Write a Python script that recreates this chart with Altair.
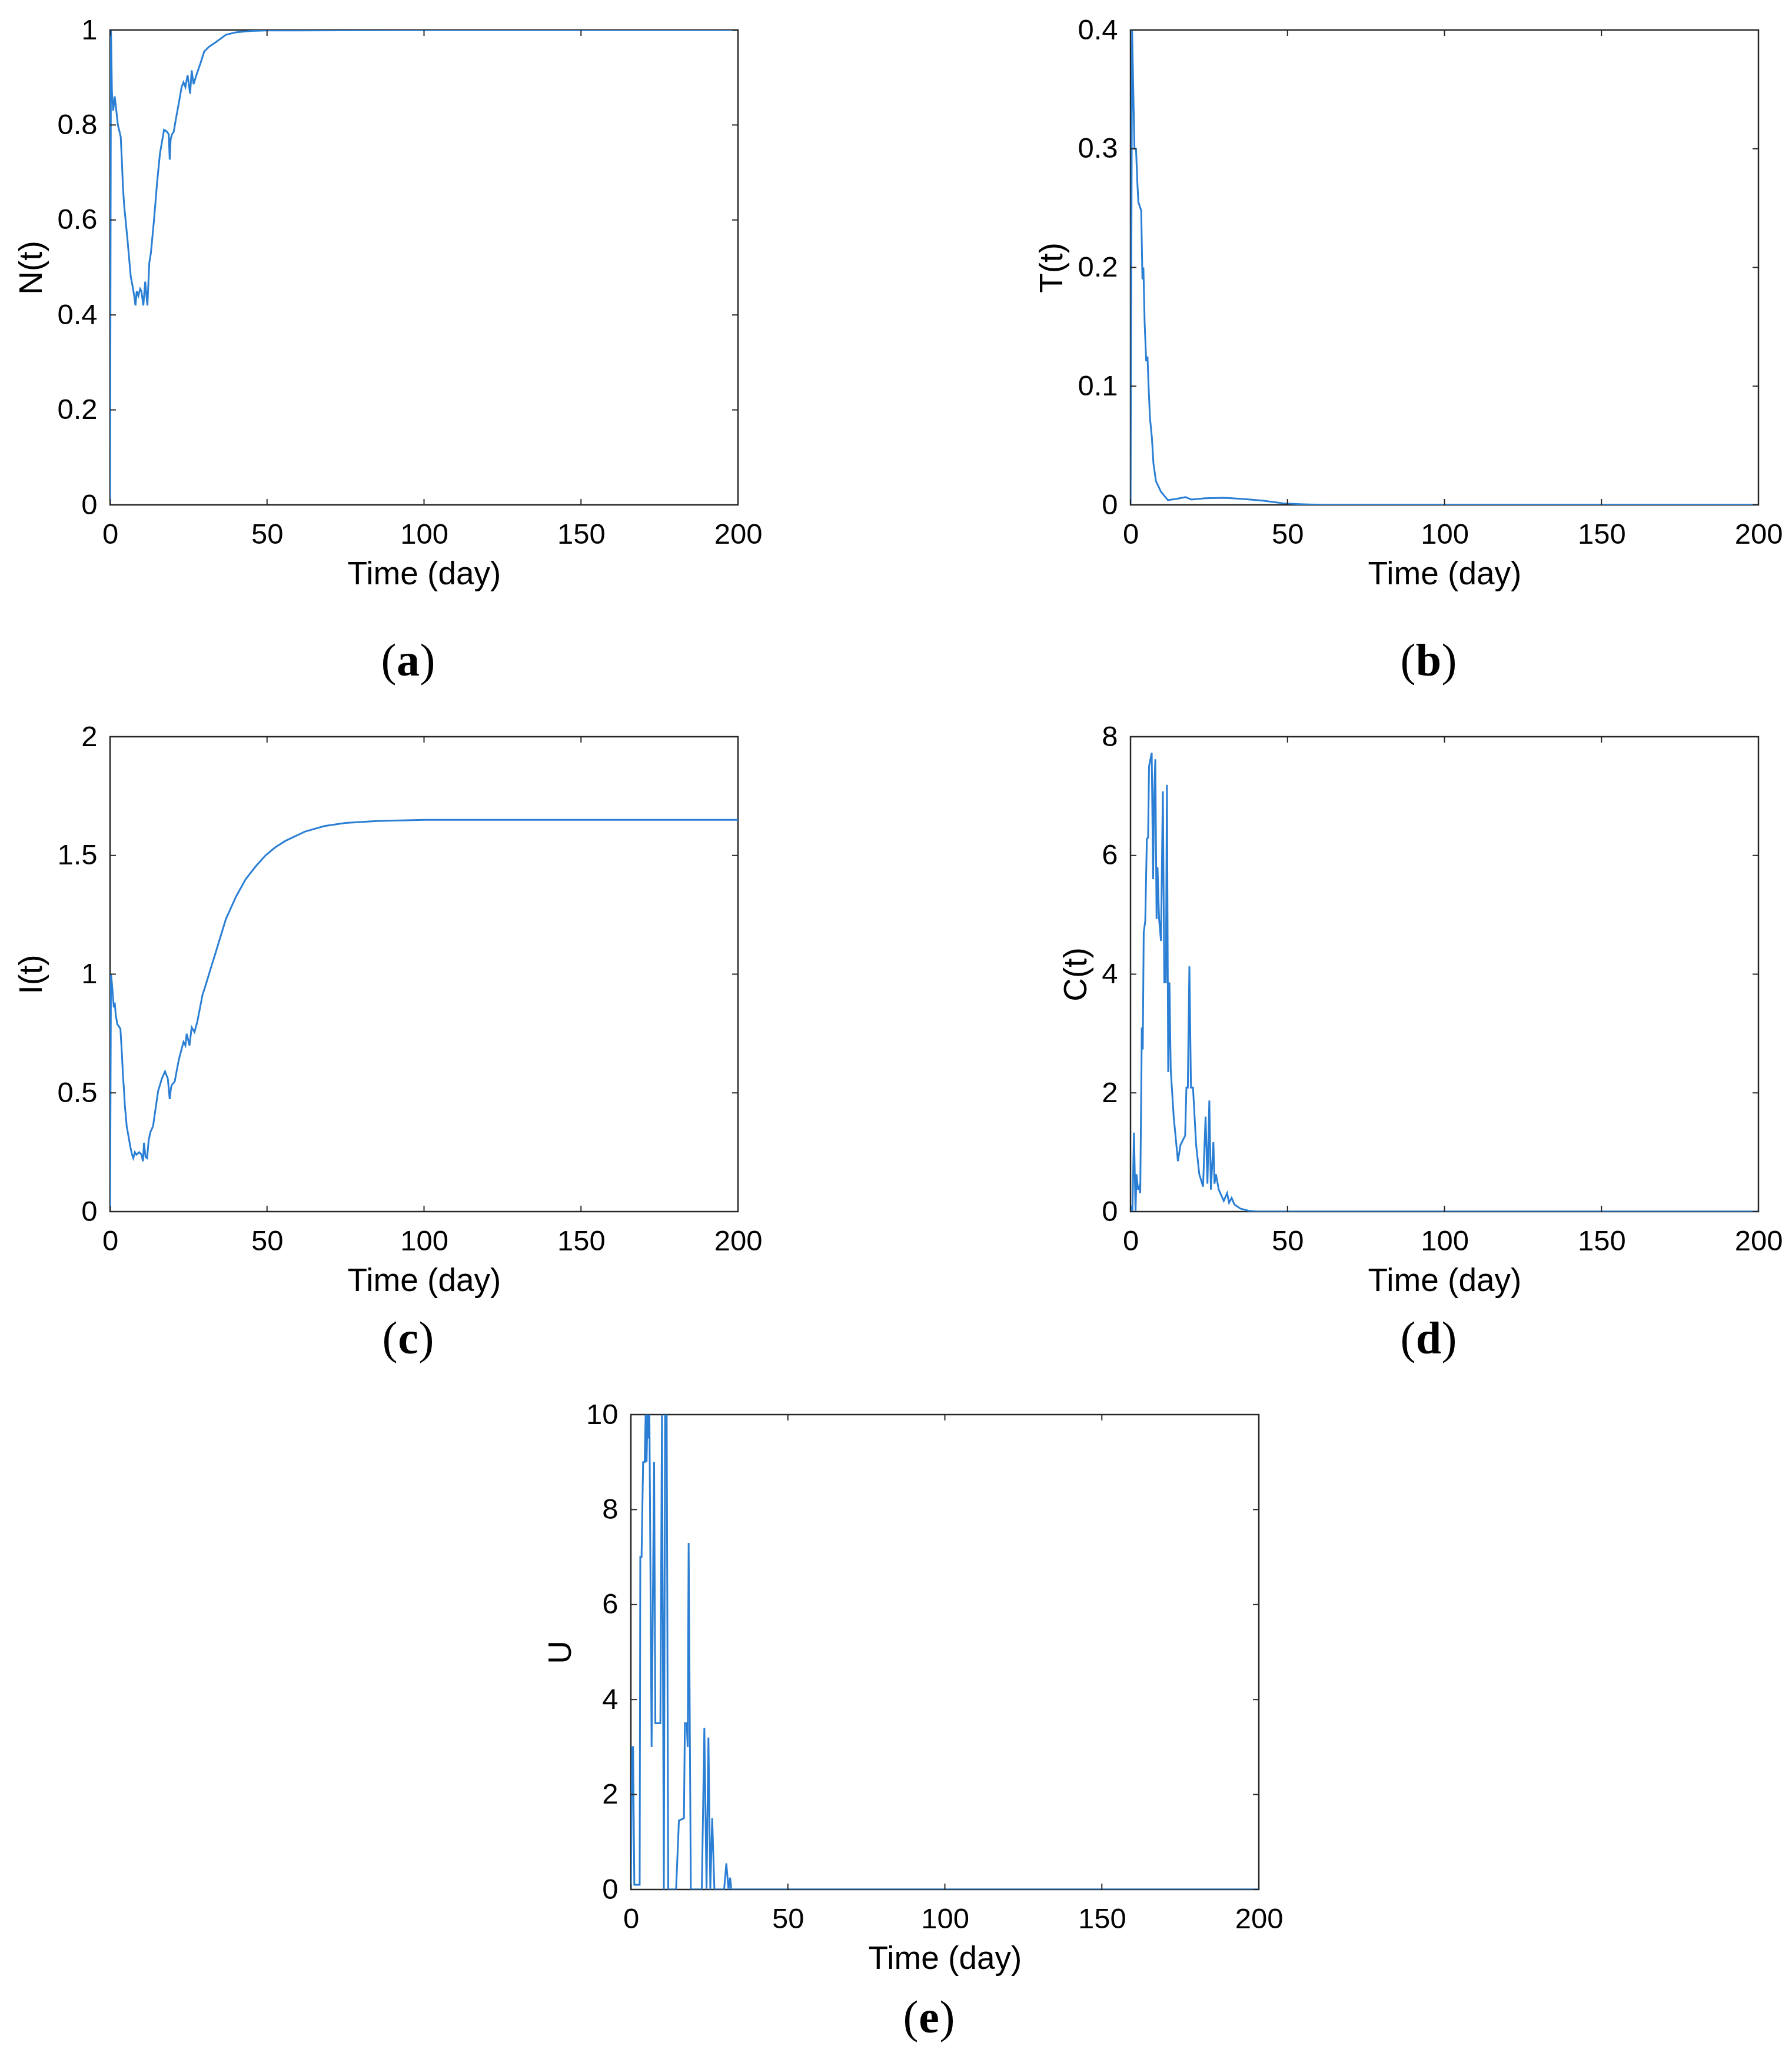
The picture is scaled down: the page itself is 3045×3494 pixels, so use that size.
import altair as alt
import pandas as pd

# ---- data ----
time_ticks = [0, 50, 100, 150, 200]

n_ticks = [0, 0.2, 0.4, 0.6, 0.8, 1]
n_t = [0, 0.3, 0.6, 1.0, 1.5, 2.5, 3.4, 3.8, 4.1, 4.5,
       4.8, 5.6, 6.6, 7.2, 7.7, 8.1, 8.5, 9.0, 9.6, 10.0,
       10.6, 11.2, 11.6, 11.9, 12.5, 13.0, 14.0, 15.0, 15.9, 17.2,
       18.1, 18.7, 19.0, 19.3, 19.7, 20.3, 20.9, 21.9, 22.8, 23.4,
       24.0, 24.7, 25.5, 26.0, 26.6, 27.5, 28.8, 30.0, 31.6, 33.8,
       36.9, 40.0, 45.0, 50.0, 100.0, 150.0, 200.0]
n_v = [0, 1.0, 0.87, 0.83, 0.86, 0.80, 0.775, 0.72, 0.67, 0.63,
       0.61, 0.555, 0.48, 0.46, 0.44, 0.42, 0.45, 0.44, 0.455, 0.45,
       0.42, 0.47, 0.44, 0.42, 0.51, 0.53, 0.60, 0.68, 0.74, 0.79,
       0.786, 0.78, 0.727, 0.77, 0.78, 0.786, 0.81, 0.846, 0.88, 0.89,
       0.88, 0.905, 0.866, 0.915, 0.886, 0.905, 0.93, 0.955, 0.965, 0.975,
       0.99, 0.995, 0.998, 0.999, 1.0, 1.0, 1.0]

t_ticks = [0, 0.1, 0.2, 0.3, 0.4]
t_t = [0, 0.5, 1.25, 1.75, 2.2, 2.5, 3.4, 3.8, 4.1, 4.5,
       5.0, 5.4, 5.8, 6.2, 6.8, 7.3, 8.1, 9.7, 11.9, 14.4,
       17.5, 19.4, 23.7, 30.0, 36.0, 42.5, 48.7, 55.0, 62.0, 100.0,
       150.0, 200.0]
t_v = [0, 0.4, 0.30, 0.30, 0.27, 0.255, 0.248, 0.19, 0.2, 0.153,
       0.121, 0.125, 0.097, 0.073, 0.057, 0.035, 0.02, 0.011, 0.004, 0.005,
       0.0066, 0.0045, 0.0056, 0.006, 0.005, 0.0035, 0.0013, 0.0005, 0.0, 0.0,
       0.0, 0.0]

i_ticks = [0, 0.5, 1, 1.5, 2]
i_t = [0, 0.3, 0.6, 1.2, 1.5, 1.8, 2.3, 3.3, 3.8, 4.1,
       4.4, 4.7, 5.3, 5.7, 6.5, 7.0, 7.4, 7.9, 8.4, 9.3,
       10.0, 10.5, 10.8, 11.3, 11.8, 12.3, 12.8, 13.7, 15.3, 16.5,
       17.5, 18.4, 19.0, 19.4, 19.7, 20.6, 21.9, 23.4, 24.0, 24.4,
       25.3, 26.0, 26.9, 27.8, 29.4, 30.7, 31.9, 33.8, 36.9, 40.1,
       43.2, 46.4, 49.5, 52.6, 55.8, 62.0, 68.3, 75.0, 85.0, 100.0,
       150.0, 200.0]
i_v = [0, 1.0, 0.96, 0.86, 0.88, 0.83, 0.79, 0.77, 0.66, 0.575,
       0.52, 0.45, 0.36, 0.33, 0.27, 0.24, 0.225, 0.25, 0.24, 0.25,
       0.24, 0.212, 0.29, 0.23, 0.225, 0.30, 0.333, 0.36, 0.507, 0.56,
       0.59, 0.56, 0.474, 0.52, 0.534, 0.548, 0.64, 0.715, 0.70, 0.749,
       0.70, 0.776, 0.756, 0.80, 0.91, 0.964, 1.017, 1.098, 1.232, 1.326,
       1.40, 1.454, 1.50, 1.534, 1.561, 1.60, 1.624, 1.637, 1.645, 1.65,
       1.65, 1.65]

c_ticks = [0, 2, 4, 6, 8]
c_t = [0, 0.6, 1.1, 1.6, 1.9, 2.4, 2.8, 3.1, 3.6, 3.9,
       4.2, 4.7, 5.2, 5.6, 5.9, 6.75, 7.2, 7.5, 7.9, 8.3,
       8.6, 9.1, 9.7, 10.3, 10.75, 11.25, 11.6, 12.0, 12.4, 12.8,
       13.75, 15.1, 15.9, 17.4, 17.8, 18.25, 18.75, 19.25, 19.9, 20.9,
       21.9, 23.1, 23.9, 24.5, 25.1, 25.6, 26.4, 26.75, 27.2, 28.1,
       29.7, 30.75, 31.4, 32.2, 33.1, 35.0, 37.5, 40.0, 100.0, 200.0]
c_v = [0.1, 0, 1.33, 0, 0.63, 0.37, 0.42, 0.31, 3.1, 2.73,
       4.7, 4.9, 6.28, 6.3, 7.5, 7.73, 5.6, 7.0, 7.62, 4.93,
       5.8, 4.93, 4.56, 7.08, 3.86, 3.86, 7.19, 2.35, 3.86, 2.4,
       1.6, 0.85, 1.12, 1.28, 2.09, 2.09, 4.13, 2.09, 2.09, 1.12,
       0.63, 0.42, 1.6, 0.47, 1.87, 0.37, 1.17, 0.47, 0.63, 0.37,
       0.18, 0.31, 0.15, 0.23, 0.12, 0.05, 0.016, 0.0, 0.0, 0.0]

u_ticks = [0, 2, 4, 6, 8, 10]
u_t = [0, 0.4, 0.7, 1.1, 2.8, 3.0, 3.4, 3.9, 4.4, 4.7,
       5.0, 5.3, 5.6, 5.9, 6.6, 7.4, 7.8, 9.4, 9.9, 10.5,
       10.9, 11.4, 11.9, 14.4, 15.3, 16.9, 17.2, 17.8, 18.1, 18.4,
       19.1, 22.6, 23.4, 24.1, 24.7, 25.3, 25.9, 26.6, 29.7, 30.4,
       31.1, 31.6, 32.0, 100.0, 200.0]
u_v = [0, 3.0, 3.0, 0.1, 0.1, 7.0, 7.0, 9.0, 9.0, 10.0,
       9.0, 10.0, 9.5, 10.0, 3.0, 9.0, 3.5, 3.5, 10.0, 0.0,
       10.0, 10.0, 0.0, 0.0, 1.45, 1.5, 3.5, 3.5, 3.0, 7.3,
       0.0, 0.0, 3.4, 0.0, 3.2, 0.0, 1.5, 0.0, 0.0, 0.55,
       0.0, 0.25, 0.0, 0.0, 0.0]

# ---- styling ----
W, H = 1067, 807
BLUE = "#2a7fd4"
FRAME = "#262626"
SANS = "Liberation Sans"
SERIF = "Liberation Serif"
TICK_LEN = 10
LABEL_SIZE = 78
LETTER_HALF = {"a": 20, "b": 22, "c": 18, "d": 22, "e": 18}


def text_part(s, x, y, weight, align):
    return alt.Chart(pd.DataFrame({"s": [s]})).mark_text(
        font=SERIF, fontSize=LABEL_SIZE, fontWeight=weight, align=align,
        baseline="middle", color="black"
    ).encode(text="s:N", x=alt.value(x), y=alt.value(y))


def panel(t, v, ylab, yticks, letter, label_dy):
    xs = alt.Scale(domain=[0, 200], nice=False)
    ys = alt.Scale(domain=[0, yticks[-1]], nice=False)
    xax = alt.Axis(values=time_ticks, labelExpr="datum.value + ''", title="Time (day)")
    yax = alt.Axis(values=yticks, labelExpr="datum.value + ''", title=ylab)
    xenc = alt.X("t:Q", scale=xs, axis=xax)
    yenc = alt.Y("v:Q", scale=ys, axis=yax)

    df = pd.DataFrame({"t": t, "v": v})
    curve = alt.Chart(df).mark_line(color=BLUE, strokeWidth=3, clip=True).encode(
        x=xenc, y=yenc)

    # MATLAB style inward ticks on all four sides
    xtk = pd.DataFrame({"t": time_ticks})
    ytk = pd.DataFrame({"v": yticks})
    rule = dict(color=FRAME, strokeWidth=2)
    bottom = alt.Chart(xtk).mark_rule(**rule).encode(
        x=xenc, y=alt.value(H - TICK_LEN), y2=alt.value(H))
    top = alt.Chart(xtk).mark_rule(**rule).encode(
        x=xenc, y=alt.value(0), y2=alt.value(TICK_LEN))
    left = alt.Chart(ytk).mark_rule(**rule).encode(
        y=yenc, x=alt.value(0), x2=alt.value(TICK_LEN))
    right = alt.Chart(ytk).mark_rule(**rule).encode(
        y=yenc, x=alt.value(W - TICK_LEN), x2=alt.value(W))

    # panel label "(a)" with a bold letter
    cx = W / 2 - 27
    ly = H + label_dy
    half = LETTER_HALF[letter]
    lp = text_part("(", cx - half, ly, "normal", "right")
    mid = text_part(letter, cx, ly, "bold", "center")
    rp = text_part(")", cx + half, ly, "normal", "left")

    return alt.layer(curve, bottom, top, left, right, lp, mid, rp).properties(
        width=W, height=H)


pa = panel(n_t, n_v, "N(t)", n_ticks, "a", 267)
pb = panel(t_t, t_v, "T(t)", t_ticks, "b", 267)
pc = panel(i_t, i_v, "I(t)", i_ticks, "c", 218)
pd_ = panel(c_t, c_v, "C(t)", c_ticks, "d", 218)
pe = panel(u_t, u_v, "U", u_ticks, "e", 220)

spacer = alt.Chart(pd.DataFrame({"z": [0]})).mark_point(opacity=0).encode(
    x=alt.value(0), y=alt.value(0)
).properties(width=885, height=H, view=alt.ViewBackground(stroke="transparent"))

row1 = alt.hconcat(pa, pb, spacing=667, bounds="flush")
row2 = alt.hconcat(pc, pd_, spacing=667, bounds="flush")
row3 = alt.hconcat(spacer, pe, spacing=0, bounds="flush")

chart = alt.vconcat(row1, row2, row3, spacing=60).properties(
    padding={"left": 17, "top": 17, "right": 0, "bottom": 10},
    background="white",
).configure_axis(
    labelFont=SANS, labelFontSize=49, labelColor="black",
    titleFont=SANS, titleFontSize=55, titleFontWeight="normal", titleColor="black",
    domain=False, ticks=False, tickSize=0, grid=False, labelFlush=False,
).configure_axisX(
    labelPadding=26, titlePadding=16,
).configure_axisY(
    labelPadding=22, titlePadding=14,
).configure_view(
    stroke=FRAME, strokeWidth=2.5,
)

chart.save("out.html", embed_options={"renderer": "svg", "actions": False})
